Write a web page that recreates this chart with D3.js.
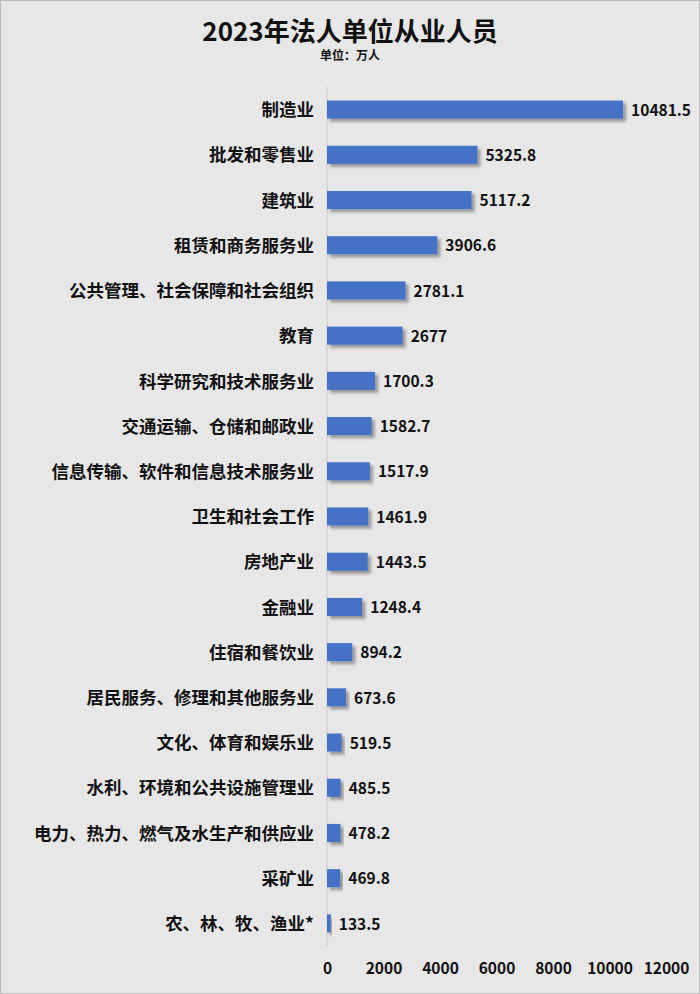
<!DOCTYPE html>
<html><head><meta charset="utf-8">
<script src="https://cdn.jsdelivr.net/npm/d3@7.9.0/dist/d3.min.js"></script>
<style>
body{margin:0;background:#e7e7e7;}
text{font-family:"Noto Sans CJK SC",sans-serif;font-weight:bold;fill:#111;}
</style></head><body>
<svg id="chart" width="700" height="994"></svg>
<script>
const categories = ["制造业","批发和零售业","建筑业","租赁和商务服务业","公共管理、社会保障和社会组织","教育","科学研究和技术服务业","交通运输、仓储和邮政业","信息传输、软件和信息技术服务业","卫生和社会工作","房地产业","金融业","住宿和餐饮业","居民服务、修理和其他服务业","文化、体育和娱乐业","水利、环境和公共设施管理业","电力、热力、燃气及水生产和供应业","采矿业","农、林、牧、渔业*"];
const values = [10481.5,5325.8,5117.2,3906.6,2781.1,2677,1700.3,1582.7,1517.9,1461.9,1443.5,1248.4,894.2,673.6,519.5,485.5,478.2,469.8,133.5];
const tickValues = [0,2000,4000,6000,8000,10000,12000];

const svg = d3.select('#chart');
svg.append('rect').attr('x',0.5).attr('y',0.5).attr('width',699).attr('height',993)
  .attr('fill','#e7e7e7').attr('stroke','#bbb');

const defs = svg.append('defs');
const f = defs.append('filter').attr('id','sh').attr('x','-10%').attr('y','-30%').attr('width','130%').attr('height','180%');
f.append('feDropShadow').attr('dx',3).attr('dy',3).attr('stdDeviation',1.5).attr('flood-color','#000').attr('flood-opacity',0.35);

const x = d3.scaleLinear().domain([0,12000]).range([327,666]);
const y = d3.scaleBand().domain(categories).range([87,946]).paddingInner(0.6).paddingOuter(0.3);

svg.append('text').attr('x',350).attr('y',41).attr('text-anchor','middle').style('font-size','26px').text('2023年法人单位从业人员');
svg.append('text').attr('x',350).attr('y',60).attr('text-anchor','middle').style('font-size','12px').text('单位：万人');

svg.append('line').attr('x1',x(0)).attr('x2',x(0)).attr('y1',87).attr('y2',946).attr('stroke','#c8c8c8');

svg.selectAll('rect.bar').data(values).join('rect').attr('class','bar')
  .attr('x',x(0)).attr('y',(d,i)=>y(categories[i]))
  .attr('width',d=>Math.max(3,x(d)-x(0))).attr('height',y.bandwidth())
  .attr('fill','#4472c4').attr('filter','url(#sh)');

svg.selectAll('text.cat').data(categories).join('text').attr('class','cat')
  .attr('x',314).attr('y',d=>y(d)+y.bandwidth()/2).attr('dy','0.38em')
  .attr('text-anchor','end').style('font-size','17.5px').text(d=>d);

svg.selectAll('text.val').data(values).join('text').attr('class','val')
  .attr('x',d=>Math.max(x(d),x(0)+3)+8).attr('y',(d,i)=>y(categories[i])+y.bandwidth()/2).attr('dy','0.4em')
  .style('font-size','15.5px').text(d=>d);

const axis = svg.append('g').attr('transform','translate(0,971)')
  .call(d3.axisBottom(x).tickValues(tickValues).tickSize(0).tickFormat(d3.format('d')));
axis.select('.domain').remove();
axis.selectAll('text').style('font-size','15.5px').style('font-family','"Noto Sans CJK SC",sans-serif').attr('dy','0');
</script>
</body></html>
